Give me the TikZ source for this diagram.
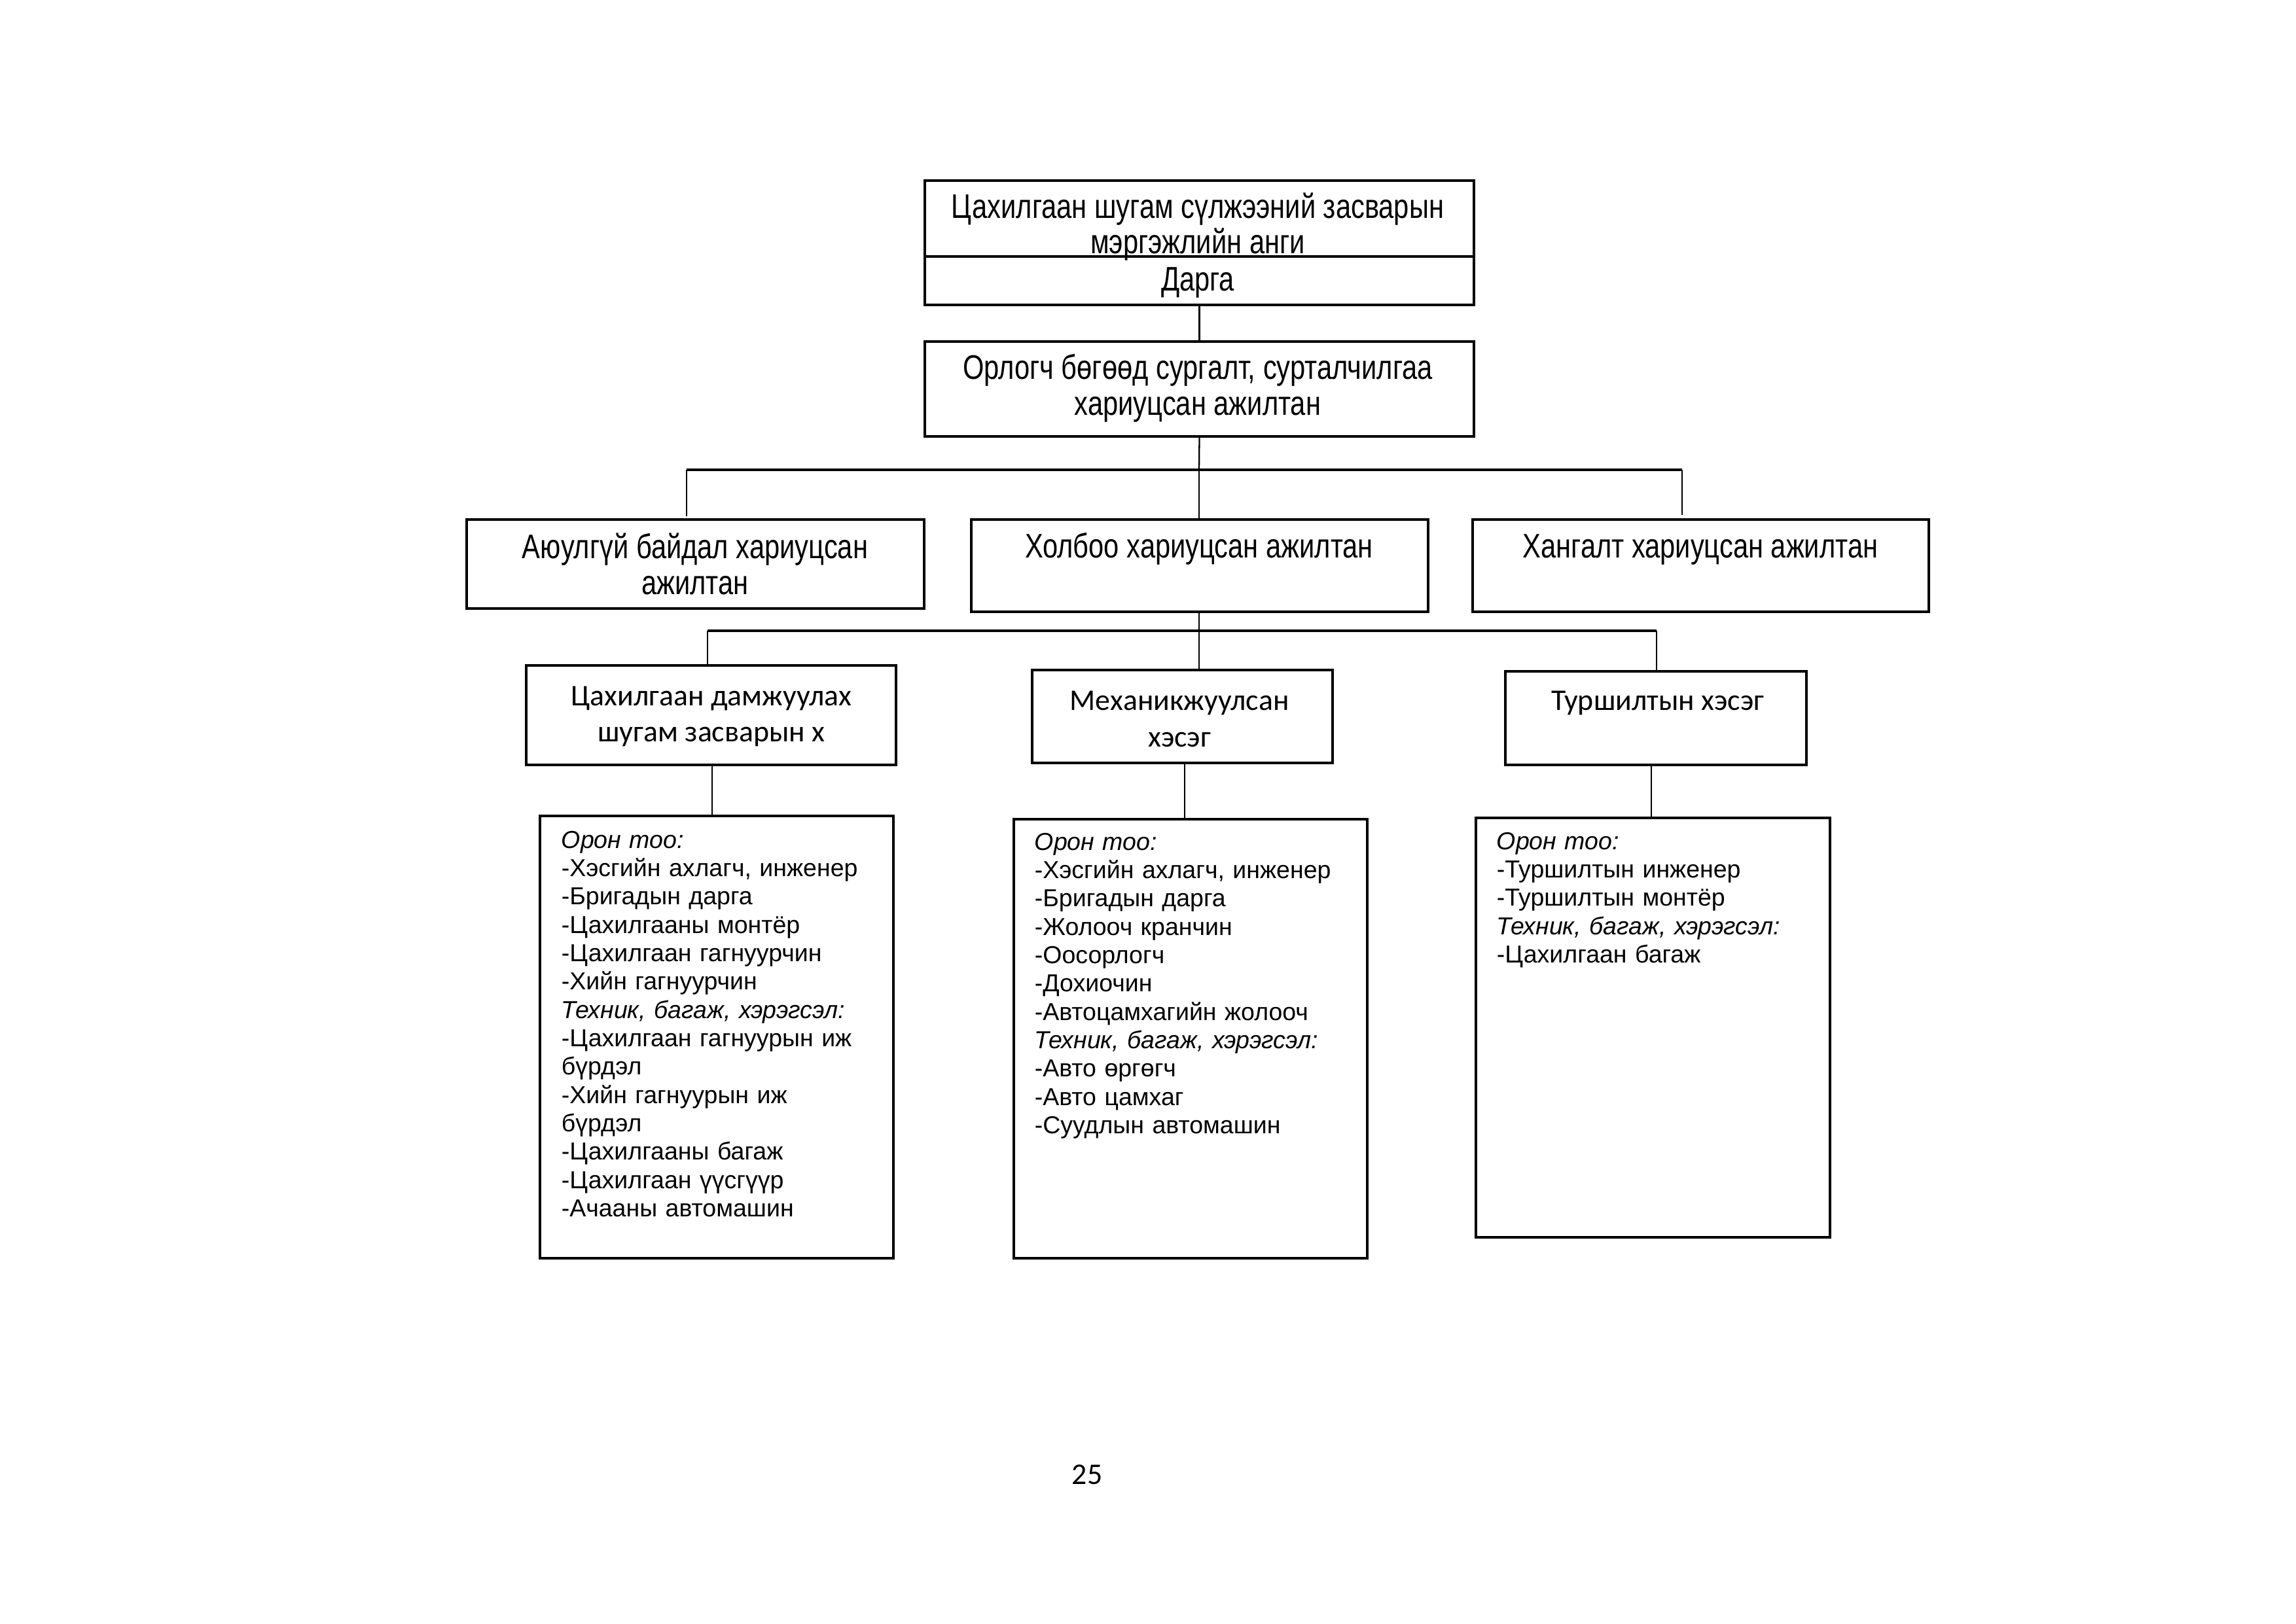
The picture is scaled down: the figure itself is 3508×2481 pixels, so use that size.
\documentclass[tikz,border=0pt]{standalone}
\usepackage{fontspec}
\setmainfont{Liberation Sans}
\newfontfamily\narrowf{Liberation Sans}[FakeStretch=0.8]
\newfontfamily\calibf{Carlito}
\newcommand\mkbox[5]{\node[boxst, minimum width={(#4-#2)*0.24pt}, minimum height={(#5-#3)*0.24pt}] (#1) at ({(#2+#4)/2},{(#3+#5)/2}) {};}
\begin{document}
\begin{tikzpicture}[x=0.24pt,y=-0.24pt,
  boxst/.style={draw, line width=0.75pt, inner sep=0pt, outer sep=0pt},
  conn/.style={line width=0.55pt},
  bus/.style={line width=0.8pt},
  hdr/.style={font=\narrowf\fontsize{12.5}{13.2}\selectfont, inner sep=0pt, anchor=base},
  sub/.style={font=\calibf\fontsize{11}{13.5}\selectfont, inner sep=0pt, anchor=base},
  lst/.style={font=\fontsize{9}{10.4}\selectfont, inner sep=0pt, anchor=base west, align=left, text width=500pt}]
\useasboundingbox (0,0) rectangle (3508,2481);
% boxes
\mkbox{top}{1413}{276}{2252}{466}
\mkbox{dep}{1413}{522}{2252}{667}
\mkbox{la}{713}{794}{1412}{930}
\mkbox{lb}{1484}{794}{2182}{935}
\mkbox{lc}{2250}{794}{2947}{935}
\mkbox{sd}{804}{1017}{1369}{1169}
\mkbox{se}{1577}{1024}{2036}{1166}
\mkbox{sf}{2300}{1026}{2760}{1169}
\mkbox{ta}{825}{1247}{1365}{1923}
\mkbox{tb}{1549}{1252}{2089}{1923}
\mkbox{tc}{2255}{1250}{2796}{1891}
% divider in top box
\coordinate (dv) at (0,392);
\draw[line width=0.75pt] (top.west |- dv) -- (top.east |- dv);
% header texts
\node[hdr] (tt1) at (1830,333) {Цахилгаан шугам сүлжээний засварын};
\node[hdr] (tt2) at (1830,387) {мэргэжлийн анги};
\node[hdr] (tt3) at (1830,444) {Дарга};
\node[hdr] (dp1) at (1830,579) {Орлогч бөгөөд сургалт, сурталчилгаа};
\node[hdr] (dp2) at (1830,634) {хариуцсан ажилтан};
\node[hdr] (la1) at (1062,853) {Аюулгүй байдал хариуцсан};
\node[hdr] (la2) at (1062,908) {ажилтан};
\node[hdr] (lb1) at (1832,852) {Холбоо хариуцсан ажилтан};
\node[hdr] (lc1) at (2598,852) {Хангалт хариуцсан ажилтан};
\node[sub] (d1) at (1087,1078) {Цахилгаан дамжуулах};
\node[sub] (d2) at (1087,1133) {шугам засварын х};
\node[sub] (e1) at (1802,1085) {Механикжуулсан};
\node[sub] (e2) at (1802,1141) {хэсэг};
\node[sub] (f1) at (2533,1085) {Туршилтын хэсэг};
% lists
\node[lst] (l1) at (857,1296) {\textit{Орон тоо:}\\-Хэсгийн ахлагч, инженер\\-Бригадын дарга\\-Цахилгааны монтёр\\-Цахилгаан гагнуурчин\\-Хийн гагнуурчин\\\textit{Техник, багаж, хэрэгсэл:}\\-Цахилгаан гагнуурын иж\\бүрдэл\\-Хийн гагнуурын иж\\бүрдэл\\-Цахилгааны багаж\\-Цахилгаан үүсгүүр\\-Ачааны автомашин};
\node[lst] (l2) at (1580,1299) {\textit{Орон тоо:}\\-Хэсгийн ахлагч, инженер\\-Бригадын дарга\\-Жолооч кранчин\\-Оосорлогч\\-Дохиочин\\-Автоцамхагийн жолооч\\\textit{Техник, багаж, хэрэгсэл:}\\-Авто өргөгч\\-Авто цамхаг\\-Суудлын автомашин};
\node[lst] (l3) at (2286,1298) {\textit{Орон тоо:}\\-Туршилтын инженер\\-Туршилтын монтёр\\\textit{Техник, багаж, хэрэгсэл:}\\-Цахилгаан багаж};
% page number
\node[sub] (pg) at (1661,2268) {25};
% connectors
\draw[conn] (top) -- (dep);
\coordinate (b1) at (1832,718);
\coordinate (b1l) at (1049,718);
\coordinate (b1r) at (2570,718);
\coordinate (a1) at (1049,789);
\coordinate (c1) at (2570,787);
\draw[conn] (dep.south) -- (b1);
\draw[conn] (b1) -- (b1 |- lb.north);
\draw[bus] (b1l) -- (b1r);
\draw[conn] (b1l) -- (a1);
\draw[conn] (b1r) -- (c1);
\coordinate (b2) at (1832,964);
\coordinate (b2l) at (1081,964);
\coordinate (b2r) at (2531,964);
\draw[conn] (b2 |- lb.south) -- (b2);
\draw[bus] (b2l) -- (b2r);
\draw[conn] (b2l) -- (b2l |- sd.north);
\draw[conn] (b2) -- (b2 |- se.north);
\draw[conn] (b2r) -- (b2r |- sf.north);
\coordinate (x1) at (1088,0);
\coordinate (x2) at (1810,0);
\coordinate (x3) at (2523,0);
\draw[conn] (x1 |- sd.south) -- (x1 |- ta.north);
\draw[conn] (x2 |- se.south) -- (x2 |- tb.north);
\draw[conn] (x3 |- sf.south) -- (x3 |- tc.north);
\end{tikzpicture}
\end{document}
